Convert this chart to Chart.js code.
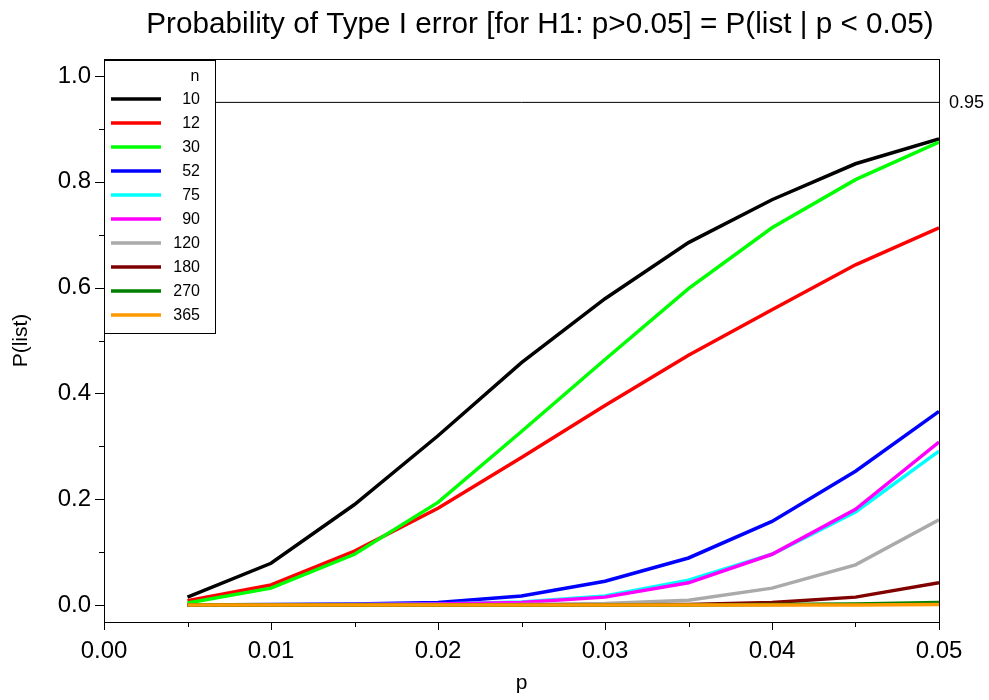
<!DOCTYPE html>
<html>
<head>
<meta charset="utf-8">
<script src="https://cdn.jsdelivr.net/npm/chart.js@4.4.1/dist/chart.umd.min.js"></script>
<style>
  html, body { margin: 0; padding: 0; background: #fff; }
  #wrap { width: 989px; height: 700px; }
</style>
</head>
<body>
<div id="wrap"><canvas id="chart" width="989" height="700"></canvas></div>
<script>
// x values (p)
const pValues = [0.005, 0.01, 0.015, 0.02, 0.025, 0.03, 0.035, 0.04, 0.045, 0.05];

// P(list) for each n
const n10  = [0.015, 0.079, 0.190, 0.320, 0.458, 0.579, 0.685, 0.766, 0.834, 0.881];
const n12  = [0.008, 0.038, 0.102, 0.183, 0.279, 0.377, 0.472, 0.558, 0.643, 0.713];
const n30  = [0.004, 0.032, 0.096, 0.194, 0.328, 0.464, 0.598, 0.713, 0.804, 0.875];
const n52  = [0.000, 0.001, 0.002, 0.005, 0.017, 0.045, 0.089, 0.158, 0.253, 0.366];
const n75  = [0.000, 0.000, 0.001, 0.002, 0.006, 0.017, 0.047, 0.096, 0.176, 0.291];
const n90  = [0.000, 0.000, 0.001, 0.002, 0.005, 0.015, 0.042, 0.096, 0.181, 0.308];
const n120 = [0.000, 0.000, 0.000, 0.000, 0.001, 0.003, 0.009, 0.032, 0.076, 0.161];
const n180 = [0.000, 0.000, 0.000, 0.000, 0.000, 0.000, 0.001, 0.005, 0.015, 0.042];
const n270 = [0.000, 0.000, 0.000, 0.000, 0.000, 0.000, 0.000, 0.001, 0.002, 0.005];
const n365 = [0.000, 0.000, 0.000, 0.000, 0.000, 0.000, 0.000, 0.000, 0.000, 0.001];

const seriesLabels = ['10', '12', '30', '52', '75', '90', '120', '180', '270', '365'];
const seriesValues = [n10, n12, n30, n52, n75, n90, n120, n180, n270, n365];
const seriesColors = ['#000000', '#ff0000', '#00ff00', '#0000ff', '#00ffff',
                      '#ff00ff', '#aaaaaa', '#800000', '#008000', '#ff9900'];

const refLevel = 0.95;
const xTickValues = [0, 0.01, 0.02, 0.03, 0.04, 0.05];
const yTickValues = [0, 0.2, 0.4, 0.6, 0.8, 1.0];
const chartTitle = 'Probability of Type I error [for H1: p>0.05] = P(list | p < 0.05)';

const FONT = '"Liberation Sans", Arial, sans-serif';

const datasets = seriesValues.map((vals, i) => ({
    label: seriesLabels[i],
    data: vals.map((v, j) => ({ x: pValues[j], y: v })),
    borderColor: seriesColors[i],
    backgroundColor: seriesColors[i],
    borderWidth: 3.5,
    pointRadius: 0,
    tension: 0,
    order: seriesValues.length - i   // first series underneath, last on top
}));

datasets.push({
    label: 'ref',
    data: [{ x: 0, y: refLevel }, { x: 0.05, y: refLevel }],
    borderColor: '#000000',
    borderWidth: 1,
    pointRadius: 0,
    order: 99
});

// title, frame, tick marks, legend box and 0.95 label
const decorPlugin = {
    id: 'decor',
    afterDatasetsDraw(chart) {
        const { ctx, chartArea: a, scales: { x, y } } = chart;
        ctx.save();

        ctx.fillStyle = '#000';
        ctx.font = '29.7px ' + FONT;
        ctx.textAlign = 'center';
        ctx.textBaseline = 'middle';
        ctx.fillText(chartTitle, 540, 25);

        ctx.strokeStyle = '#000';
        ctx.lineWidth = 1;
        ctx.strokeRect(a.left + 0.5, a.top + 0.5, a.right - a.left, a.bottom - a.top);

        // x ticks (major every 0.01, minor every 0.005)
        for (let k = 0; k <= 10; k++) {
            const px = Math.round(x.getPixelForValue(k * 0.005)) + 0.5;
            const len = k % 2 === 0 ? 8 : 5;
            ctx.beginPath();
            ctx.moveTo(px, a.bottom);
            ctx.lineTo(px, a.bottom + len);
            ctx.stroke();
        }
        // y ticks (major every 0.2, minor every 0.1)
        for (let k = 0; k <= 10; k++) {
            const py = Math.round(y.getPixelForValue(k * 0.1)) + 0.5;
            const len = k % 2 === 0 ? 9 : 5;
            ctx.beginPath();
            ctx.moveTo(a.left, py);
            ctx.lineTo(a.left - len, py);
            ctx.stroke();
        }

        // 0.95 label outside the plot
        ctx.font = '18px ' + FONT;
        ctx.textAlign = 'left';
        ctx.fillText('0.95', a.right + 10, y.getPixelForValue(refLevel) + 1);

        // legend
        const lx = a.left, ly = a.top + 1, lw = 111, lh = 273;
        ctx.fillStyle = '#fff';
        ctx.fillRect(lx, ly, lw, lh);
        ctx.strokeRect(lx + 0.5, ly + 0.5, lw, lh);
        ctx.fillStyle = '#000';
        ctx.font = '16px ' + FONT;
        ctx.textAlign = 'center';
        ctx.fillText('n', lx + 91, ly + 17);
        ctx.textAlign = 'right';
        seriesLabels.forEach((lab, i) => {
            const yy = ly + 39 + i * 24;
            ctx.strokeStyle = seriesColors[i];
            ctx.lineWidth = 3.5;
            ctx.beginPath();
            ctx.moveTo(lx + 7, yy);
            ctx.lineTo(lx + 57, yy);
            ctx.stroke();
            ctx.fillText(lab, lx + 96, yy + 1);
        });
        ctx.restore();
    }
};

new Chart(document.getElementById('chart'), {
    type: 'line',
    data: { datasets: datasets },
    plugins: [decorPlugin],
    options: {
        responsive: false,
        animation: false,
        layout: { padding: { left: 0, right: 50, top: 59, bottom: 0 } },
        plugins: {
            legend: { display: false },
            tooltip: { enabled: false },
            title: { display: false }
        },
        scales: {
            x: {
                type: 'linear',
                min: 0,
                max: 0.05,
                afterBuildTicks: s => { s.ticks = xTickValues.map(v => ({ value: v })); },
                afterFit: s => { s.height = 78; },
                grid: { display: false, drawTicks: false },
                border: { display: false },
                ticks: {
                    color: '#000',
                    padding: 15,
                    maxRotation: 0,
                    font: { family: FONT, size: 24 },
                    callback: v => v.toFixed(2)
                },
                title: {
                    display: true,
                    text: 'p',
                    color: '#000',
                    font: { family: FONT, size: 21 },
                    padding: { top: 4, bottom: 4 }
                }
            },
            y: {
                type: 'linear',
                min: -0.032,
                max: 1.032,
                afterBuildTicks: s => { s.ticks = yTickValues.map(v => ({ value: v })); },
                afterFit: s => { s.width = 104; },
                grid: { display: false, drawTicks: false },
                border: { display: false },
                ticks: {
                    color: '#000',
                    padding: 13,
                    font: { family: FONT, size: 24 },
                    callback: v => v.toFixed(1)
                },
                title: {
                    display: true,
                    text: 'P(list)',
                    color: '#000',
                    font: { family: FONT, size: 21 },
                    padding: { top: 9, bottom: 4 }
                }
            }
        }
    }
});
</script>
</body>
</html>
